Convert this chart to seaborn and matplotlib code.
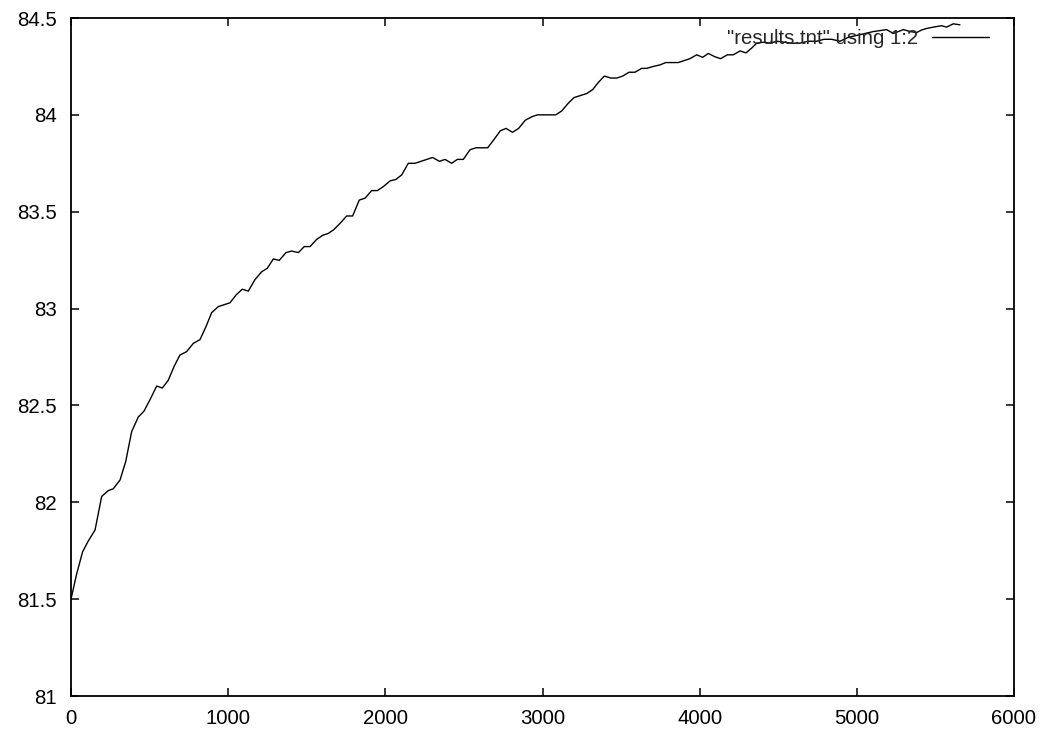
import numpy as np
import pandas as pd
import matplotlib
matplotlib.use("Agg")
import matplotlib.pyplot as plt
from matplotlib.ticker import FuncFormatter, MultipleLocator
import seaborn as sns

# Data
iterations = [0, 36, 74, 110, 153, 195, 237, 269, 312, 348, 386, 428, 464, 503, 545, 581, 619, 655,
              693, 736, 778, 821, 859, 895, 937, 975, 1012, 1050, 1090, 1128, 1171, 1213, 1249, 1287,
              1325, 1368, 1404, 1447, 1484, 1521, 1563, 1601, 1637, 1673, 1712, 1754, 1792, 1834,
              1871, 1913, 1949, 1988, 2030, 2068, 2104, 2146, 2189, 2252, 2301, 2344, 2380, 2422,
              2458, 2496, 2539, 2577, 2615, 2651, 2689, 2732, 2768, 2809, 2848, 2890, 2931, 2967,
              3005, 3045, 3084, 3122, 3164, 3200, 3239, 3281, 3319, 3355, 3393, 3436, 3472, 3510,
              3550, 3588, 3631, 3663, 3705, 3748, 3784, 3825, 3864, 3900, 3938, 3981, 4019, 4055,
              4097, 4133, 4176, 4214, 4257, 4295, 4331, 4363, 4405, 4450, 4490, 4532, 4580, 4638,
              4690, 4744, 4790, 4840, 4893, 4945, 4999, 5050, 5105, 5150, 5190, 5232, 5296, 5340,
              5381, 5412, 5444, 5500, 5540, 5571, 5614, 5656]
accuracy = [81.50, 81.63, 81.745, 81.80, 81.857, 82.03, 82.06, 82.07, 82.115, 82.21, 82.365, 82.44,
            82.47, 82.53, 82.60, 82.59, 82.63, 82.70, 82.76, 82.778, 82.82, 82.84, 82.907, 82.979,
            83.01, 83.02, 83.03, 83.07, 83.10, 83.09, 83.15, 83.19, 83.208, 83.256, 83.249, 83.289,
            83.297, 83.289, 83.32, 83.32, 83.357, 83.378, 83.388, 83.408, 83.44, 83.478, 83.478,
            83.56, 83.57, 83.609, 83.609, 83.63, 83.659, 83.667, 83.69, 83.75, 83.75, 83.767, 83.78,
            83.76, 83.77, 83.75, 83.77, 83.77, 83.82, 83.83, 83.83, 83.83, 83.87, 83.918, 83.93,
            83.91, 83.93, 83.972, 83.99, 84.0, 84.0, 84.0, 84.0, 84.02, 84.06, 84.089, 84.099,
            84.11, 84.13, 84.167, 84.20, 84.19, 84.19, 84.20, 84.22, 84.22, 84.24, 84.24, 84.25,
            84.258, 84.27, 84.27, 84.27, 84.28, 84.29, 84.31, 84.297, 84.317, 84.30, 84.29, 84.31,
            84.31, 84.33, 84.32, 84.345, 84.37, 84.375, 84.37, 84.38, 84.376, 84.37, 84.37, 84.38,
            84.38, 84.39, 84.39, 84.38, 84.40, 84.41, 84.42, 84.43, 84.435, 84.44, 84.42, 84.44,
            84.43, 84.425, 84.438, 84.446, 84.455, 84.46, 84.453, 84.47, 84.465]
series_label = '"results.tnt" using 1:2'
x_ticks = [0, 1000, 2000, 3000, 4000, 5000, 6000]
y_ticks = [81, 81.5, 82, 82.5, 83, 83.5, 84, 84.5]

df = pd.DataFrame({"x": iterations, "y": accuracy})

FS = 14.7

sns.set_style("white")
plt.rcParams['font.family'] = ['Liberation Sans', 'DejaVu Sans']
plt.rcParams['font.size'] = FS

fig = plt.figure(figsize=(10.41, 7.29), dpi=100)
ax = fig.add_axes([71/1041, 1 - 696/729, (1014-71)/1041, (696-18)/729])

sns.lineplot(data=df, x="x", y="y", ax=ax, color="black", linewidth=1.0, label=series_label)

ax.set_xlim(0, 6000)
ax.set_ylim(81, 84.5)
ax.set_xticks(x_ticks)
ax.set_yticks(y_ticks)
fmt = FuncFormatter(lambda v, p: "%g" % v)
ax.xaxis.set_major_formatter(fmt)
ax.yaxis.set_major_formatter(fmt)
ax.set_xlabel("")
ax.set_ylabel("")

for s in ax.spines.values():
    s.set_visible(True)
    s.set_color("black")
    s.set_linewidth(1.3)

ax.tick_params(axis="both", which="major", direction="in", length=6, width=1.1,
               top=True, right=True, bottom=True, left=True, labelsize=FS, colors="black")
ax.tick_params(axis="y", pad=10)
ax.tick_params(axis="x", pad=9)

leg = ax.legend(loc="upper right", frameon=False, markerfirst=False, handlelength=2.8,
                handletextpad=0.69, borderaxespad=0.0, borderpad=0.0, fontsize=FS,
                bbox_to_anchor=(1 - 25/943, 1 - 11/678))

fig.savefig("out.png", dpi=100, facecolor="white")
